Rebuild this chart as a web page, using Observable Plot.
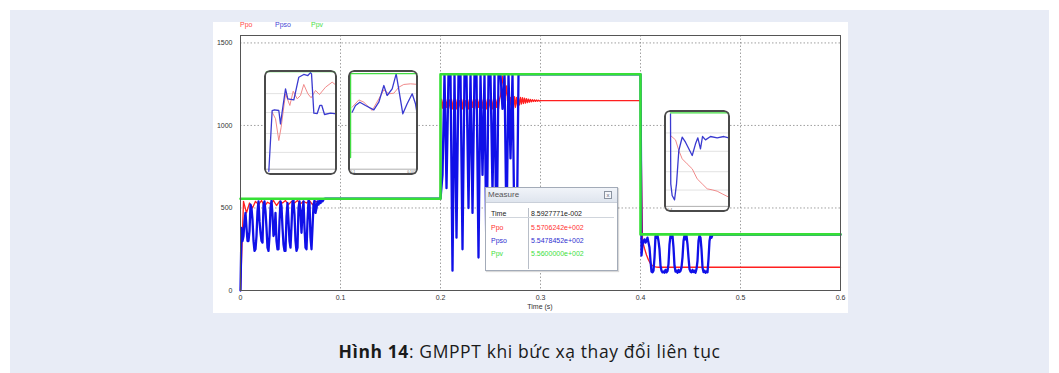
<!DOCTYPE html>
<html><head><meta charset="utf-8">
<script src="https://cdn.jsdelivr.net/npm/d3@7"></script>
<script src="https://cdn.jsdelivr.net/npm/@observablehq/plot@0.6"></script>
<style>
html,body{margin:0;padding:0;background:#fff;}
#page{position:relative;width:1059px;height:373px;overflow:hidden;font-family:"Liberation Sans",Arial,sans-serif;}
#panel{position:absolute;left:10px;top:10px;width:1039px;height:363px;background:#e8ecf6;}
#shot{position:absolute;left:213px;top:22px;width:635px;height:291px;background:#fff;}
.abs{position:absolute;}
.legend{position:absolute;top:21px;font-size:7px;}
.inset{position:absolute;overflow:hidden;border-radius:6px;background:#fff;}
.inset .bd{position:absolute;left:0;top:0;right:0;bottom:0;border:2px solid #4a4a4a;border-radius:6px;box-sizing:border-box;}
.inset svg{position:absolute;left:0;top:0;}
#measure{position:absolute;left:485px;top:187px;width:133px;height:84px;background:#fff;border:1.5px solid #a3abb8;box-sizing:border-box;box-shadow:1px 1px 1px rgba(0,0,0,0.15);font-size:7px;}
#mtitle{position:absolute;left:0;top:0;right:0;height:14px;background:linear-gradient(#f1f4f9,#dfe5ee);border-bottom:1px solid #c9cfd9;color:#555;font-size:8px;line-height:14px;padding-left:2px;}
#mclose{position:absolute;right:5px;top:3px;width:6px;height:6px;border:1px solid #8a93a0;font-size:6px;line-height:6px;text-align:center;color:#667;background:#f4f6fa;}
.mrow{position:absolute;font-size:7px;line-height:8px;}
#caption{position:absolute;left:0;top:339px;width:1059px;text-align:center;font-family:"Open Sans",sans-serif;font-size:17.5px;letter-spacing:0.6px;color:#1a1a1a;}
</style>
</head><body>
<div id="page">
  <div id="panel"></div>
  <div id="shot"></div>
  <div id="chart" class="abs" style="left:213px;top:22px;"></div>
  <div id="legend"></div>
  <div id="xlabel" class="abs" style="left:515px;top:303px;width:50px;text-align:center;font-size:7px;color:#333;"></div>
  <div id="insets"></div>
  <div id="measure"><div id="mtitle"></div><div id="mclose">x</div><div id="mrows"></div>
    <div class="abs" style="left:42px;top:20px;width:1px;height:61px;background:#b8bec8;"></div>
    <div class="abs" style="left:3px;top:29px;width:125px;height:1px;background:#d0d5dc;"></div>
  </div>
  <div id="caption"><b>Hình 14</b>: GMPPT khi bức xạ thay đổi liên tục</div>
</div>
<script>
// ---------------- data ----------------
const seriesNames = ["Ppo", "Ppso", "Ppv"];
const xTicks = [0, 0.1, 0.2, 0.3, 0.4, 0.5, 0.6];
const xTickLabels = ["0", "0.1", "0.2", "0.3", "0.4", "0.5", "0.6"];
const yTicks = [0, 500, 1000, 1500];
const yTickLabels = ["0", "500", "1000", "1500"];
const xAxisLabel = "Time (s)";

// Ppv (available PV power, step profile)
const ppvTime = [0, 0.2, 0.2, 0.4, 0.4, 0.6];
const ppvValue = [556, 556, 1310, 1310, 340, 340];

// Ppso: sampled segments (start time, sample step), last value held until segment end
const ppsoSegStart = [0, 0.2, 0.4];
const ppsoSegStep = [0.001, 0.002, 0.001];
const ppsoSegEnd = [0.2, 0.4, 0.6];
const ppsoSeg1 = [0, 380, 300, 330, 420, 470, 380, 300, 300, 360,
  520, 500, 430, 300, 240, 250, 330, 480, 540, 420,
  350, 300, 290, 520, 540, 480, 380, 260, 240, 330,
  500, 545, 460, 330, 350, 470, 300, 250, 250, 420,
  540, 510, 380, 280, 240, 240, 450, 530, 420, 300,
  260, 390, 540, 545, 460, 300, 240, 260, 500, 540,
  470, 350, 480, 540, 380, 260, 250, 420, 545, 530,
  320, 250, 380, 520, 545, 470, 500, 540, 520, 545,
  530, 548, 540, 552, 555, 556];
const ppsoSeg2 = [556, 700, 1310, 620, 1310, 1310, 120, 1310, 320, 1310,
  1310, 250, 1310, 1310, 500, 1310, 470, 1310, 1310, 200,
  1310, 700, 1310, 150, 1310, 1310, 600, 1310, 200, 1310,
  1310, 1100, 1310, 350, 1310, 800, 1310, 300, 150, 1310,
  1310];
const ppsoSeg3 = [1310, 212, 280, 300, 310, 290, 300, 320, 290, 260,
  180, 115, 110, 120, 200, 330, 320, 333, 300, 250,
  150, 120, 110, 115, 108, 125, 110, 118, 160, 280,
  333, 320, 333, 260, 150, 115, 120, 108, 125, 112,
  118, 140, 200, 300, 333, 310, 333, 280, 200, 130,
  115, 110, 125, 112, 120, 108, 130, 180, 300, 333,
  320, 250, 140, 112, 120, 108, 115, 110, 190, 300,
  333, 320, 338];

// Ppo
const ppoSegStart = [0, 0.2, 0.4];
const ppoSegStep = [0.003, 0.001, 0.002];
const ppoSegEnd = [0.2, 0.4, 0.6];
const ppoSeg1 = [0, 540, 470, 530, 500, 540, 520, 545, 510, 535,
  525, 545, 515, 540, 530, 545, 520, 540, 530, 545,
  525, 540, 530, 545, 520, 540, 535, 545, 557];
const ppoSeg2 = [1100, 1160, 1105, 1155, 1100, 1160, 1110, 1150, 1100, 1155,
  1105, 1160, 1100, 1150, 1110, 1160, 1100, 1155, 1105, 1150,
  1110, 1160, 1100, 1155, 1105, 1150, 1110, 1160, 1100, 1155,
  1105, 1160, 1110, 1150, 1100, 1155, 1105, 1160, 1110, 1150,
  1100, 1160, 1105, 1155, 1110, 1150, 1100, 1160, 1105, 1155,
  1110, 1160, 1100, 1150, 1105, 1160, 1110, 1155, 1100, 1160,
  1180, 1250, 1300, 1220, 1290, 1180, 1240, 1150, 1200, 1120,
  1170, 1090, 1180, 1100, 1175, 1110, 1170, 1120, 1165, 1125,
  1170, 1130, 1168, 1133, 1165, 1136, 1162, 1139, 1160, 1141,
  1158, 1143, 1156, 1145, 1155, 1146, 1154, 1147, 1153, 1148, 1150];
const ppoSeg3 = [1150, 300, 255, 215, 185, 163, 150, 145, 142, 141];

// zoomed insets (local coordinates: 0-100 across, 0-100 up)
const insetGridLevels = [22, 40, 60, 78];
const inset1PpvX = [0, 100], inset1PpvY = [99, 99];
const inset1PpsoX = [5.9, 10.5, 13.7, 19.6, 21.9, 25.1, 28.8, 31.9, 40.2, 47, 53.8, 59.4, 63, 64.4, 67.6, 72.2, 75.8, 78.5, 82.2, 90.4, 98.6, 100];
const inset1PpsoY = [4, 61.9, 62.6, 61.9, 49.2, 65, 82.5, 73, 72, 93.6, 96.2, 95.2, 98, 96.8, 59.4, 59, 66.7, 66.7, 58.1, 59.4, 58.7, 58.7];
const inset1PpoX = [10.5, 15.1, 19.6, 22.8, 28.8, 34.7, 39.3, 44.8, 49.3, 53.8, 59.4, 63.9, 69.9, 75.3, 83.6, 92.7, 98.6, 100];
const inset1PpoY = [60.3, 54, 33.3, 46, 77.8, 66.7, 80.3, 73, 76.2, 86.7, 77.8, 74, 81, 77.1, 84.1, 88.9, 85.7, 85.5];
const inset2PpvX = [0, 2.9, 2.9, 100], inset2PpvY = [17.1, 17.1, 97, 97];
const inset2PpsoX = [5.2, 10, 16.2, 24.3, 36.2, 43.3, 50.5, 55.2, 62.4, 68.1, 72.9, 77.6, 83.8, 91, 95.7, 100];
const inset2PpsoY = [60.3, 66.7, 69.8, 66.7, 62.5, 69.8, 85.7, 76.2, 82.5, 96.8, 77.8, 58.7, 68.3, 77.8, 68.3, 50.8];
const inset2PpoX = [5.2, 14.8, 21.9, 33.8, 43.3, 50.5, 57.6, 64.8, 71.9, 79, 88.6, 100];
const inset2PpoY = [65, 72, 69.8, 61.9, 73, 81.6, 77.8, 78.4, 84.1, 86.7, 87.3, 86.7];
const inset2TickLabels = ["0.1", "0.101"];
const inset3PpvX = [9.1, 100], inset3PpvY = [97.7, 97.7];
const inset3PpsoX = [9.1, 9.5, 11.6, 15.2, 18.2, 21.7, 26.8, 31.8, 42, 47, 50.5, 54.5, 57.6, 62.1, 69.7, 79.8, 89.9, 99, 100];
const inset3PpsoY = [96.7, 28.1, 16.7, 12.4, 28.1, 60.8, 73.8, 68.9, 55.9, 67.3, 73.2, 62.4, 74.5, 71.2, 74.5, 73.2, 74.5, 72.9, 72.9];
const inset3PpoX = [9.1, 16.7, 21.7, 26.8, 34.3, 42, 49.5, 57.1, 64.7, 72.2, 79.8, 87.4, 97.5, 100];
const inset3PpoY = [75.5, 71.2, 60.8, 52.6, 47.7, 42.8, 33, 28.1, 23.2, 22.2, 20.9, 18.3, 15, 14.6];
const inset3TickLabels = ["0.4"];

// measure window
const measureTitle = "Measure";
const measureLabels = ["Time", "Ppo", "Ppso", "Ppv"];
const measureValues = ["8.5927771e-002", "5.5706242e+002", "5.5478452e+002", "5.5600000e+002"];

// ---------------- styles ----------------
const colPpo = "#ff1f1f", colPpso = "#1010e8", colPpv = "#36e036";
const legendColors = ["#ff4a4a", "#4545d6", "#4ae04a"];

function buildSeries(starts, steps, segs, ends) {
  const out = [];
  segs.forEach((vals, k) => {
    vals.forEach((v, i) => out.push({t: starts[k] + i * steps[k], v}));
    out.push({t: ends[k], v: vals[vals.length - 1]});
  });
  return out;
}
const ppso = buildSeries(ppsoSegStart, ppsoSegStep, [ppsoSeg1, ppsoSeg2, ppsoSeg3], ppsoSegEnd);
const ppo = buildSeries(ppoSegStart, ppoSegStep, [ppoSeg1, ppoSeg2, ppoSeg3], ppoSegEnd);
const ppv = ppvTime.map((t, i) => ({t, v: ppvValue[i]}));

const chart = Plot.plot({
  width: 635, height: 291,
  marginLeft: 27, marginRight: 8, marginTop: 13, marginBottom: 23,
  style: {fontFamily: "'Liberation Sans', Arial, sans-serif", fontSize: "7px", color: "#333", background: "transparent", overflow: "visible"},
  x: {domain: [0, 0.6], ticks: xTicks, tickFormat: (d, i) => xTickLabels[i], tickSize: 0, tickPadding: 5, label: null},
  y: {domain: [0, 1545], ticks: yTicks, tickFormat: (d, i) => yTickLabels[i], tickSize: 0, tickPadding: 8, label: null},
  marks: [
    Plot.gridX(xTicks, {stroke: "#888", strokeOpacity: 1, strokeWidth: 0.8, strokeDasharray: "1.5,2"}),
    Plot.gridY(yTicks, {stroke: "#888", strokeOpacity: 1, strokeWidth: 0.8, strokeDasharray: "1.5,2"}),
    Plot.line(ppo, {x: "t", y: "v", stroke: colPpo, strokeWidth: 1.3}),
    Plot.line(ppso, {x: "t", y: "v", stroke: colPpso, strokeWidth: 2.3}),
    Plot.line(ppv, {x: "t", y: "v", stroke: colPpv, strokeWidth: 2.6}),
    Plot.frame({stroke: "#555", strokeWidth: 1})
  ]
});
document.getElementById("chart").appendChild(chart);

// legend
const legendX = [240, 275, 311];
const legendDiv = document.getElementById("legend");
seriesNames.forEach((n, i) => {
  const s = document.createElement("div");
  s.className = "legend";
  s.style.left = legendX[i] + "px";
  s.style.color = legendColors[i];
  s.textContent = n;
  legendDiv.appendChild(s);
});
document.getElementById("xlabel").textContent = xAxisLabel;

// insets
function inset(left, top, w, h, pvX, pvY, psoX, psoY, poX, poY, labels) {
  const wrap = document.createElement("div");
  wrap.className = "inset";
  Object.assign(wrap.style, {left: left + "px", top: top + "px", width: w + "px", height: h + "px"});
  const toPts = (X, Y) => X.map((x, i) => ({x, y: Y[i]}));
  const marks = [
    Plot.ruleY(insetGridLevels, {stroke: "#d6d6d6", strokeWidth: 0.7}),
    Plot.ruleY([6], {stroke: "#9a9a9a", strokeWidth: 0.8}),
    Plot.line(toPts(poX, poY), {x: "x", y: "y", stroke: "#f08a8a", strokeWidth: 1}),
    Plot.line(toPts(psoX, psoY), {x: "x", y: "y", stroke: "#3a3ad0", strokeWidth: 1.3}),
    Plot.line(toPts(pvX, pvY), {x: "x", y: "y", stroke: "#44dd44", strokeWidth: 1.4})
  ];
  if (labels && labels.length) {
    const lx = labels.length === 1 ? [8] : [6, 90];
    marks.push(Plot.text(labels, {x: (d, i) => lx[i], y: 3, text: d => d, fontSize: 3.5, fill: "#666", textAnchor: "middle"}));
  }
  const p = Plot.plot({
    width: w, height: h, margin: 0,
    style: {background: "transparent", fontFamily: "Arial"},
    x: {domain: [0, 100], axis: null},
    y: {domain: [0, 100], axis: null},
    marks
  });
  wrap.appendChild(p);
  const bd = document.createElement("div");
  bd.className = "bd";
  wrap.appendChild(bd);
  document.getElementById("insets").appendChild(wrap);
}
inset(264, 70, 73, 105, inset1PpvX, inset1PpvY, inset1PpsoX, inset1PpsoY, inset1PpoX, inset1PpoY, []);
inset(348, 70, 70, 105, inset2PpvX, inset2PpvY, inset2PpsoX, inset2PpsoY, inset2PpoX, inset2PpoY, inset2TickLabels);
inset(664, 110, 66, 102, inset3PpvX, inset3PpvY, inset3PpsoX, inset3PpsoY, inset3PpoX, inset3PpoY, inset3TickLabels);

// measure window
document.getElementById("mtitle").textContent = measureTitle;
const rowColors = ["#222", "#ff3030", "#3030d0", "#3ee03e"];
const rowTop = [22, 36, 49, 62];
const mrows = document.getElementById("mrows");
measureLabels.forEach((lab, i) => {
  const a = document.createElement("div");
  a.className = "mrow";
  Object.assign(a.style, {left: "5px", top: rowTop[i] + "px", color: rowColors[i]});
  a.textContent = lab;
  const b = document.createElement("div");
  b.className = "mrow";
  Object.assign(b.style, {left: "45px", top: rowTop[i] + "px", color: rowColors[i]});
  b.textContent = measureValues[i];
  mrows.appendChild(a); mrows.appendChild(b);
});
</script>
</body></html>
